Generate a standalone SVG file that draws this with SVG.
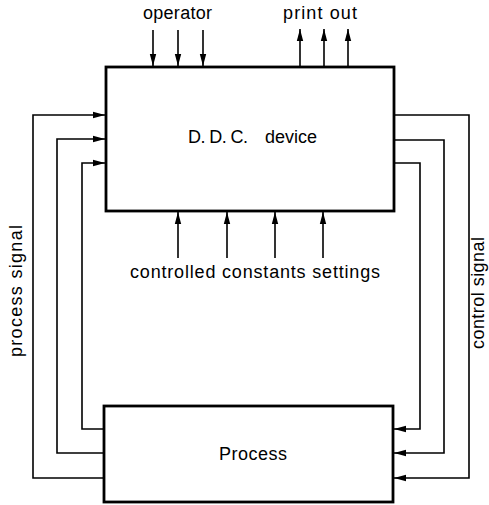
<svg xmlns="http://www.w3.org/2000/svg" width="489" height="505" viewBox="0 0 489 505">
<style>
.box{fill:#fff;stroke:#000;stroke-width:2.8}
.ln{fill:none;stroke:#000;stroke-width:1.6}
text{font-family:"Liberation Sans",Arial,sans-serif;fill:#000;font-size:18px}
</style>
<defs>
<marker id="ah" markerUnits="userSpaceOnUse" markerWidth="13" markerHeight="8" refX="12" refY="4" orient="auto">
<path d="M0,0.8 L12,4 L0,7.2 Z" fill="#000"/>
</marker>
</defs>
<g id="connectors">
<path class="ln" d="M104,429 H82 V163 H105" marker-end="url(#ah)"/>
<path class="ln" d="M104,453 H57 V139 H105" marker-end="url(#ah)"/>
<path class="ln" d="M104,478 H33 V115 H105" marker-end="url(#ah)"/>
<path class="ln" d="M394,163 H420 V429 H394" marker-end="url(#ah)"/>
<path class="ln" d="M394,140 H444 V453 H394" marker-end="url(#ah)"/>
<path class="ln" d="M394,115 H469 V478 H394" marker-end="url(#ah)"/>
<path class="ln" d="M153,30 V66" marker-end="url(#ah)"/>
<path class="ln" d="M178,30 V66" marker-end="url(#ah)"/>
<path class="ln" d="M203,30 V66" marker-end="url(#ah)"/>
<path class="ln" d="M300,67 V29" marker-end="url(#ah)"/>
<path class="ln" d="M324,67 V29" marker-end="url(#ah)"/>
<path class="ln" d="M348,67 V29" marker-end="url(#ah)"/>
<path class="ln" d="M178,258 V212" marker-end="url(#ah)"/>
<path class="ln" d="M227,258 V212" marker-end="url(#ah)"/>
<path class="ln" d="M275,258 V212" marker-end="url(#ah)"/>
<path class="ln" d="M323,258 V212" marker-end="url(#ah)"/>
</g>
<g id="ddc">
<rect class="box" x="106" y="67" width="288" height="144"/>
<text y="143"><tspan x="188" textLength="60" lengthAdjust="spacing">D. D. C.</tspan><tspan x="265" textLength="52" lengthAdjust="spacing">device</tspan></text>
</g>
<g id="process">
<rect class="box" x="104" y="406" width="289" height="96"/>
<text x="219" y="460" font-size="19" textLength="68" lengthAdjust="spacing">Process</text>
</g>
<g id="labels">
<text x="143" y="19" textLength="69" lengthAdjust="spacing">operator</text>
<text x="283" y="19" textLength="74" lengthAdjust="spacing">print out</text>
<text x="130" y="278" font-size="19" textLength="250" lengthAdjust="spacing">controlled constants settings</text>
<text transform="translate(22,357) rotate(-90)" font-size="19" textLength="132" lengthAdjust="spacing">process signal</text>
<text transform="translate(484,349) rotate(-90)" font-size="18" textLength="112" lengthAdjust="spacing">control signal</text>
</g>
</svg>
